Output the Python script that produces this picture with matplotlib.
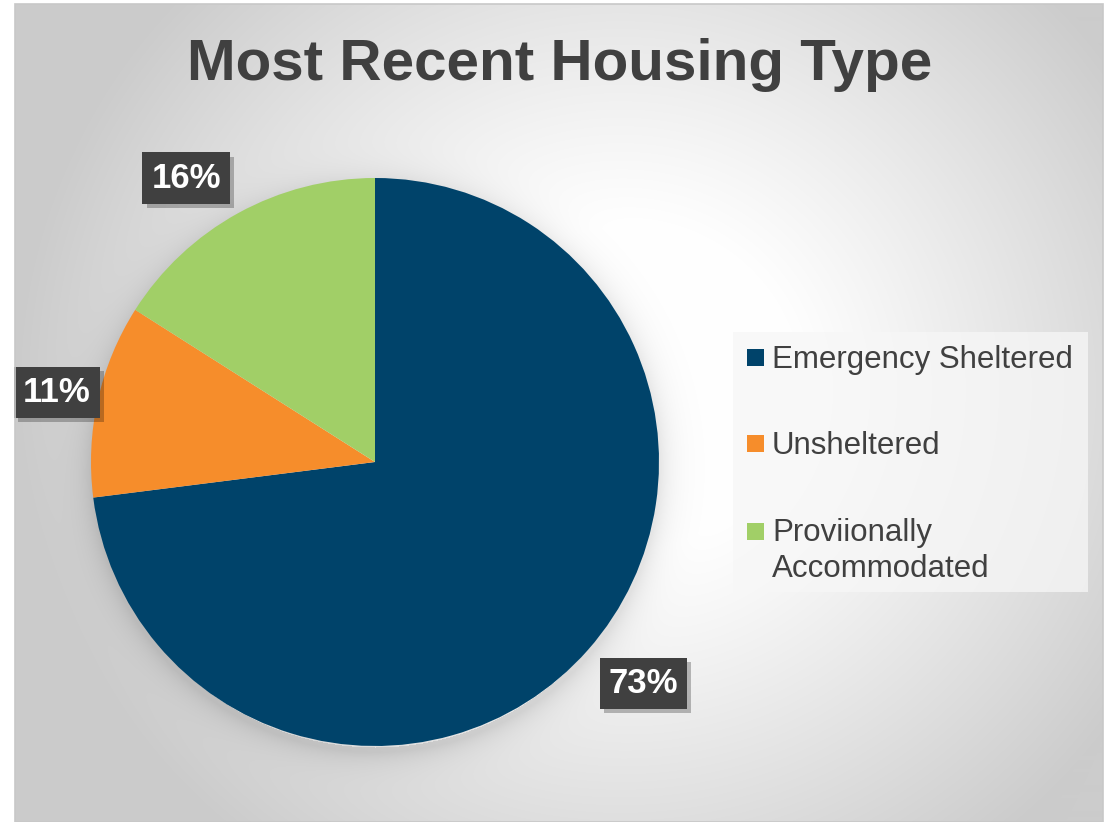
import numpy as np
import matplotlib
matplotlib.use("Agg")
from matplotlib import pyplot as plt
from matplotlib import patheffects as pe
from matplotlib.patches import Rectangle

plt.rcParams['font.family'] = ['Liberation Sans', 'DejaVu Sans']

# data
categories = ["Emergency Sheltered", "Unsheltered", "Proviionally\nAccommodated"]
shares = [73, 11, 16]
colors = ["#00436A", "#F68D2B", "#A1CF67"]
title = "Most Recent Housing Type"
# where the data labels sit (pie radius units, "best fit" like in the original)
label_xy = [(0.945, -0.78), (-1.12, 0.245), (-0.665, 1.0)]

W, H = 1109, 822
fig = plt.figure(figsize=(W / 100, H / 100), dpi=100)


def fx(x):
    return x / W


def fy(y):
    return 1 - y / H


# chart area background: radial grey gradient with a soft glow around the pie
x0, y0, x1, y1 = 15, 4, 1103, 822
yy, xx = np.mgrid[y0:y1, x0:x1]
d = np.hypot(xx - 620, (yy - 390) * 1.05)
bg = 1 - 0.2 * np.clip((d - 170) / 430, 0, 1) ** 1.1
cx, cy, r = 375, 462, 284
dp = np.hypot(xx - cx, yy - (cy + 6))
bg = bg - 0.10 * np.exp(-np.clip(dp - r, 0, None) / 14.0) * (dp > r - 5)
bg = np.clip(bg, 0, 1)
bax = fig.add_axes([fx(x0), fy(y1), fx(x1 - x0), (y1 - y0) / H])
bax.imshow(np.dstack([bg, bg, bg]), aspect='auto', interpolation='bilinear')
bax.set_axis_off()
fig.patches.append(Rectangle((fx(x0), fy(y1)), fx(x1 - x0), (y1 - y0) / H,
                             transform=fig.transFigure, fill=False,
                             edgecolor='#c8c8c8', linewidth=1.2, zorder=5))

# pie
ax = fig.add_axes([fx(cx - r), fy(cy + r), fx(2 * r), 2 * r / H])
wedges, texts, autotexts = ax.pie(
    shares, colors=colors, startangle=90, counterclock=False,
    autopct='%d%%', pctdistance=1.2, radius=1,
    textprops=dict(color='white', fontsize=25, fontweight='bold'))
ax.set_xlim(-1, 1)
ax.set_ylim(-1, 1)
ax.set_axis_off()
for t, pos in zip(autotexts, label_xy):
    t.set_position(pos)
    t.set_bbox(dict(boxstyle='square,pad=0.26', facecolor='#404040',
                    edgecolor='none', linewidth=0))
    t.get_bbox_patch().set_path_effects(
        [pe.withSimplePatchShadow(offset=(3, -3), shadow_rgbFace='k', alpha=0.25)])

# title
fig.text(fx(560), fy(80), title, ha='center', va='baseline',
         fontsize=42, fontweight='bold', color='#404040')

# legend box drawn by hand so the marker sits on the first text line
fig.patches.append(Rectangle((fx(733), fy(592)), fx(1088 - 733), (592 - 332) / H,
                             transform=fig.transFigure, facecolor='#f7f7f7',
                             edgecolor='none', alpha=0.75, zorder=2))
rows = [358, 444, 531]
line_h = 36
for lab, col, yc in zip(categories, colors, rows):
    fig.patches.append(Rectangle((fx(747), fy(yc + 8.5)), fx(17), 17 / H,
                                 transform=fig.transFigure, facecolor=col,
                                 edgecolor='none', zorder=3))
    for i, line in enumerate(lab.split("\n")):
        fig.text(fx(772), fy(yc + 10 + i * line_h), line, ha='left', va='baseline',
                 fontsize=22.5, color='#404040', zorder=4)

plt.savefig('out.png', dpi=100)
